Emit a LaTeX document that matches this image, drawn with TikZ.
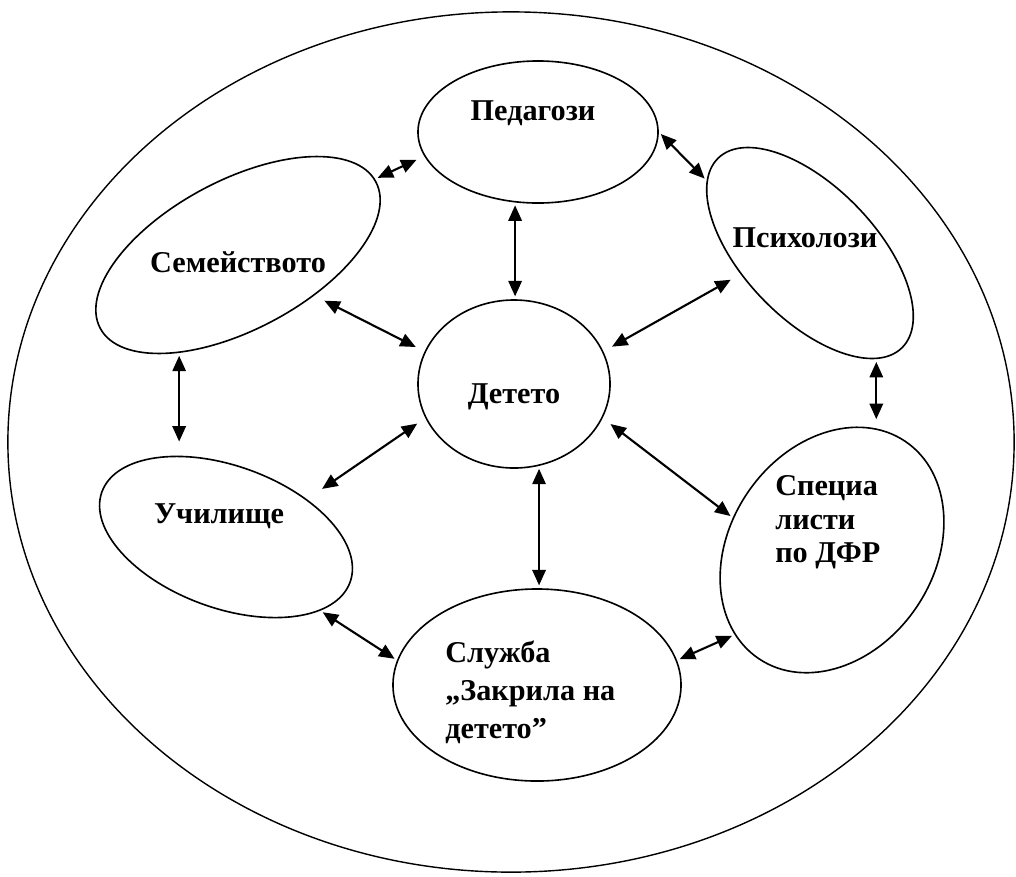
\documentclass[tikz,border=0pt]{standalone}
\usepackage{fontspec}
\setmainfont{Liberation Serif}
\usetikzlibrary{arrows.meta,shapes.geometric}

\begin{document}
\begin{tikzpicture}[x=0.025cm, y=-0.025cm,
    oval/.style={draw, ellipse, line width=1.15pt, inner sep=0pt},
    link/.style={{Triangle[length=11pt,width=9.5pt]}-{Triangle[length=11pt,width=9.5pt]}, line width=1.5pt, shorten <=2pt, shorten >=2pt},
    lbl/.style={font=\fontsize{21.5}{24}\selectfont\bfseries, inner sep=0pt}]
    \useasboundingbox (0,0) rectangle (1016,876);

    \node [oval, line width=1pt, minimum width=25.15cm, minimum height=21.5cm] (outer) at (511,442) {};
    \node [oval, minimum width=6cm, minimum height=3.55cm] (ped) at (538,132) {};
    \node [oval, minimum width=7.8cm, minimum height=3.725cm, rotate=28] (fam) at (238,255) {};
    \node [oval, minimum width=6.6cm, minimum height=3.3cm, rotate=-46] (psy) at (810,253) {};
    \node [oval, minimum width=4.8cm, minimum height=4.2cm] (child) at (514,384) {};
    \node [oval, minimum width=6.6cm, minimum height=3.55cm, rotate=-20] (school) at (226,537) {};
    \node [oval, minimum width=6.55cm, minimum height=5.1cm, rotate=56] (spec) at (832,550) {};
    \node [oval, minimum width=7.2cm, minimum height=4.8cm] (serv) at (537,685) {};

    \node [lbl, anchor=base] (pedtxt) at (533,120) {Педагози};
    \node [lbl, anchor=base] (famtxt) at (238,272) {Семейството};
    \node [lbl, anchor=base] (psytxt) at (805,247) {Психолози};
    \node [lbl, anchor=base] (childtxt) at (514,403) {Детето};
    \node [lbl, anchor=base] (schooltxt) at (219,523) {Училище};
    \node [lbl, align=left, anchor=north west] (spectxt) at (775,475) {Специа\\листи\\по ДФР};
    \node [lbl, font=\fontsize{21.5}{27}\selectfont\bfseries, align=left, anchor=north west] (servtxt) at (445,641) {Служба\\„Закрила на\\детето”};

    \draw [link, shorten >=6pt] (fam.1) -- (ped.192);
    \draw [link] (ped.0) -- (psy.191);
    \draw [link] (ped.252) -- (ped.252 |- child.north);
    \draw [link, shorten <=8pt, shorten >=7pt] (fam.-56) -- (child.160);
    \draw [link, shorten <=8pt, shorten >=7pt] (psy.243) -- (child.20);
    \draw [link, shorten >=10pt] (fam.211) -- (fam.211 |- school.140);
    \draw [link, shorten <=7pt, shorten >=13pt] (child.201) -- (school.45);
    \draw [link, shorten >=6pt] (psy.-12) -- (psy.-12 |- spec.16);
    \draw [link, shorten <=7pt] (child.-21) -- (spec.106);
    \draw [link] (child.-73) -- (child.-73 |- serv.north);
    \draw [link] (school.-18) -- (serv.170);
    \draw [link] (serv.10) -- (spec.165);
\end{tikzpicture}
\end{document}
